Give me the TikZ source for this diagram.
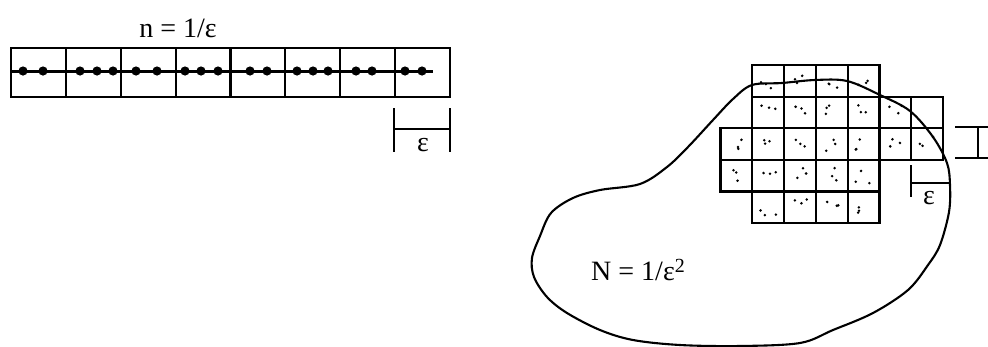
\documentclass[tikz,border=0pt]{standalone}
\usepackage{fontspec}
\setmainfont{Liberation Serif}
\begin{document}
\begin{tikzpicture}[x=1pt,y=-1pt,
  gridline/.style={line width=2.2pt},
  blob/.style={line width=2.1pt, line join=round},
  bead/.style={fill=black},
  speck/.style={fill=black},
  lab/.style={font=\fontsize{28}{32}\selectfont, inner sep=0pt}]
\useasboundingbox (0,0) rectangle (988,346);
% ---- left strip ----
\draw[gridline] (11,48) rectangle (450,97);
\foreach \k in {1,...,7} {\draw[gridline] ({11+54.875*\k},48) -- ({11+54.875*\k},97);}
\draw[line width=3pt] (11,71) -- (433,71);
\foreach \x in {23,43,80,97,113,136,157,185,201,218,250,267,297,313,328,356,372,405,422}
  {\fill[bead] (\x,71) circle (4.6);}
\node[lab] (ntext) at (178,28) {n = 1/ε};
% left epsilon bracket
\draw[line width=1.8pt] (394,108) -- (394,152);
\draw[line width=1.8pt] (450,108) -- (450,152);
\draw[line width=1.8pt] (394,129) -- (450,129);
\node[lab] (eps1) at (423,145) {ε};
% ---- right grid ----
\pgfmathsetseed{11}
\foreach \r/\a/\b in {0/1/4,1/1/6,2/0/6,3/0/4,4/1/4} {
  \foreach \c in {\a,...,\b} {
    \pgfmathsetmacro{\xa}{720.5+31.8*\c}
    \pgfmathsetmacro{\ya}{65+31.6*\r}
    \draw[gridline] (\xa,\ya) rectangle ({\xa+31.8},{\ya+31.6});
    \ifnum\r\c=16\relax\else
    \foreach \s in {1,2,3} {
      \pgfmathsetmacro{\dx}{8+16*rnd}
      \pgfmathsetmacro{\dy}{8+16*rnd}
      \fill[speck] ({\xa+\dx},{\ya+\dy}) circle (1.4);
    }
    \fi
  }
}
% right bracket
\draw[line width=1.8pt] (955,127) -- (988,127);
\draw[line width=1.8pt] (955,158) -- (988,158);
\draw[line width=1.8pt] (978,127) -- (978,158);
% lower epsilon bracket
\draw[line width=1.8pt] (911,165) -- (911,197);
\draw[line width=1.8pt] (911,183) -- (950,183);
\node[lab] (eps2) at (929,198) {ε};
% ---- blob ----
\draw[blob] plot[smooth cycle, tension=0.55] coordinates {
 (752,85) (782,83) (815,80) (847,81) (880,95) (910,111) (933,137) (947,163)
 (950,185) (949,212) (940,245) (928,265) (908,290) (873,313) (833,330) (800,343)
 (740,346) (680,345) (633,340) (600,330) (567,313) (547,297) (534,277) (532,258)
 (540,236) (551,213) (573,198) (600,190) (640,184) (667,167) (688,147) (713,120) (733,99)};
\node[lab] (Ntext) at (638,270) {N = 1/ε\raisebox{0.6ex}{\fontsize{20}{24}\selectfont 2}};
\end{tikzpicture}
\end{document}
